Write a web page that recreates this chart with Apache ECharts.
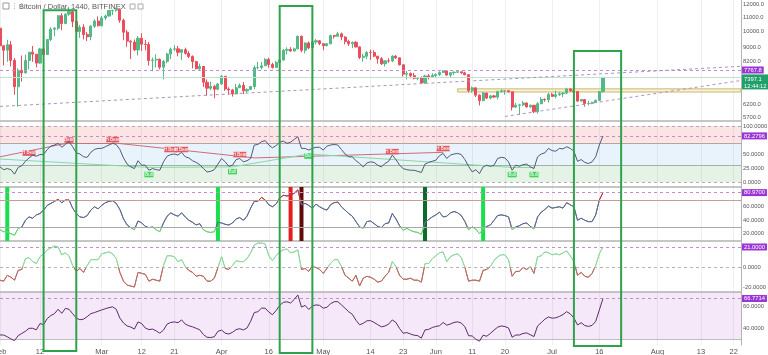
<!DOCTYPE html>
<html><head><meta charset="utf-8">
<script src="https://cdn.jsdelivr.net/npm/echarts@6.0.0/dist/echarts.min.js"></script>
<style>html,body{margin:0;padding:0;background:#fff}#c{width:768px;height:355px}</style>
</head><body><div id="c"></div><script>
// ---------- DATA ----------
const firstDate = '2018-02-01';
const lastDate = '2018-08-24';
// daily candles from 2018-02-01: [open, close, low, high]
const ohlc = [
[10230,9115,8750,10280],[9115,8850,8000,9120],[8850,9175,8200,9480],[9175,8277,7950,9400],[8277,6955,6600,8400],[6955,7754,6100,7850],[7754,7622,7200,8550],[7622,8265,7600,8600],[8265,8736,7800,8750],[8736,8621,8200,9100],[8621,8129,7900,8600],[8129,8926,8100,8990],[8926,8598,8400,8950],[8598,9494,8580,9500],[9494,10166,9400,10300],[10166,10233,9700,10300],[10233,11112,10100,11150],[11112,10551,10100,11300],[10551,11225,10500,11280],[11225,11403,11100,11780],[11403,10690,10300,11500],[10690,10005,9800,10900],[10005,10301,9600,10450],[10301,9813,9500,10500],[9813,9664,9400,9980],[9664,10366,9450,10450],[10366,10725,10250,10850],[10725,10397,10350,11050],
[10397,10951,10350,11080],[10951,11086,10800,11200],[11086,11489,11050,11540],[11489,11512,11150,11550],[11512,11573,11400,11700],[11573,10779,10600,11600],[10779,9965,9450,10900],[9965,9395,9050,10100],[9395,9337,8350,9450],[9337,8866,8800,9500],[8866,9578,8550,9720],[9578,9205,8800,9900],[9205,9194,8850,9480],[9194,8269,8000,9350],[8269,8300,7700,8430],[8300,8338,7900,8620],[8338,7916,7800,8380],[7916,8223,7300,8300],[8223,8630,8120,8700],[8630,8913,8350,9000],[8913,8929,8800,9150],[8929,8728,8500,9100],[8728,8879,8300,8900],[8879,8668,8600,9000],[8668,8495,8400,8800],[8495,8209,7850,8550],[8209,7833,7800,8250],[7833,7954,7750,8100],[7954,7165,6950,7970],[7165,6890,6550,7300],[6890,6973,6800,7200],
[6973,6844,6450,7050],[6844,7083,6800,7130],[7083,7456,7050,7520],[7456,6853,6770,7460],[6853,6811,6600,6930],[6811,6636,6520,6860],[6636,6911,6620,7080],[6911,7023,6900,7110],[7023,6770,6630,7180],[6770,6834,6690,6880],[6834,6968,6820,6980],[6968,7889,6850,8000],[7889,7895,7800,8200],[7895,7986,7800,8180],[7986,8329,7980,8400],[8329,8058,7880,8420],[8058,7902,7840,8150],[7902,8163,7890,8250],[8163,8294,8120,8350],[8294,8845,8260,8930],[8845,8895,8600,9020],[8895,8802,8760,9030],[8802,8930,8780,9000],[8930,9697,8930,9750],[9697,8845,8730,9750],[8845,9281,8670,9320],[9281,8987,8900,9380],[8987,9348,8960,9440],[9348,9419,9200,9520],[9419,9240,9150,9460],
[9240,9119,8850,9250],[9119,9235,9070,9280],[9235,9743,9200,9800],[9743,9700,9550,9780],[9700,9858,9680,9990],[9858,9654,9450,9940],[9654,9373,9200,9700],[9373,9234,9100,9480],[9234,9325,8970,9370],[9325,9043,9010,9400],[9043,8441,8350,9060],[8441,8505,8200,8650],[8505,8723,8350,8800],[8723,8716,8300,8880],[8716,8510,8450,8850],[8510,8368,8100,8520],[8368,8094,8030,8460],[8094,8250,7950,8270],[8250,8247,8150,8400],[8247,8513,8180,8560],[8513,8418,8350,8570],[8418,8041,8000,8430],[8041,7557,7440,8040],[7557,7587,7300,7720],[7587,7480,7350,7650],[7480,7355,7300,7620],[7355,7368,7260,7420],[7368,7135,7090,7450],[7135,7472,7100,7530],[7472,7406,7300,7560],[7406,7494,7370,7600],
[7494,7541,7400,7600],[7541,7643,7470,7700],[7643,7720,7630,7760],[7720,7514,7480,7760],[7514,7633,7400,7660],[7633,7653,7520,7700],[7653,7678,7640,7750],[7678,7624,7570,7690],[7624,7531,7500,7680],[7531,6786,6700,7540],[6786,6906,6700,6970],[6906,6582,6500,6920],[6582,6349,6150,6620],[6349,6675,6320,6720],[6675,6456,6420,6680],[6456,6550,6400,6590],[6550,6499,6470,6590],[6499,6734,6400,6780],[6734,6769,6700,6840],[6769,6776,6600,6800],[6776,6729,6700,6800],[6729,6083,5950,6740],[6083,6162,6050,6250],[6162,6173,5780,6220],[6173,6250,6130,6330],[6250,6093,6060,6280],[6093,6157,6050,6190],[6157,5903,5850,6170],[5903,6218,5830,6290],[6218,6404,6200,6500],
[6404,6385,6300,6440],[6385,6614,6270,6680],[6614,6529,6500,6680],[6529,6597,6450,6780],[6597,6639,6550,6720],[6639,6673,6500,6710],[6673,6857,6620,6880],[6857,6773,6730,6870],[6773,6741,6680,6800],[6741,6329,6300,6750],[6329,6394,6320,6420],[6394,6228,6100,6400],[6228,6238,6150,6340],[6238,6277,6200,6300],[6277,6359,6250,6400],[6359,6741,6340,6750],[6741,7397.1,6690,7420]
];
const rsi = [27,22,24,22,14,26,29,37,43,48,46,49,49,58,64,66,69,62,67,72,63,52,50,45,44,53,58,60,60,63,66,69,67,58,43,32,27,24,38,30,30,21,24,22,21,36,46,49,50,48,53,45,43,38,35,31,24,18,19,22,32,42,36,28,30,40,42,36,38,42,66,67,72,74,66,61,65,71,73,69,71,76,81,60,60,57,60,62,62,57,64,66,67,66,58,50,45,45,38,33,27,34,36,35,30,27,33,37,48,40,30,24,22,21,21,19,17,32,35,37,39,47,51,42,48,50,51,49,40,28,18,22,15,27,30,28,30,42,44,43,36,21,30,28,31,32,27,24,45,50,52,60,56,55,60,59,63,60,55,37,40,35,33,36,45,66,82.2796];
const osc = [26,23,23,20,18,28,30,40,45,43,48,50,55,62,65,68,71,66,70,70,58,50,45,44,47,55,60,57,62,66,68,69,65,56,42,33,29,26,39,36,31,29,30,26,23,36,46,51,48,46,51,45,40,37,33,35,26,23,22,23,37,36,34,33,36,42,44,40,46,58,68,68,74,70,63,60,64,73,77,76,77,80,85,63,65,62,58,64,60,57,55,63,66,67,60,55,50,46,38,30,28,38,39,35,31,29,35,36,50,42,32,25,28,25,23,22,19,37,41,45,48,52,45,46,51,53,51,47,38,26,30,27,20,27,31,33,40,47,48,47,45,26,30,32,35,36,31,27,45,52,56,61,58,59,60,58,66,63,60,40,43,40,38,38,48,70,80.97];
const mom = [-13,-14,-8,-10,-13,-3,-2,9,10,6,4,11,14,18,20,22,21,13,15,12,2,-4,-1,-5,2,8,8,8,14,15,16,14,9,-5,-14,-18,-19,-20,-5,-6,-7,-14,-12,-13,-14,2,12,12,11,6,8,1,-3,-5,-9,-8,-9,-14,-14,-11,0,11,-1,-2,2,7,6,6,9,15,23,25,25,24,12,7,12,16,18,19,15,16,18,-2,-1,-4,2,0,-2,-6,-1,4,8,8,1,-8,-11,-14,-8,-19,-11,-9,-10,-12,-15,-14,-9,-5,6,1,-8,-12,-12,-11,-13,-13,-15,4,4,9,12,15,16,6,11,13,14,10,0,-14,-13,-13,-14,-3,-2,1,7,11,13,13,8,-9,-4,-4,0,-2,1,-6,11,12,16,15,13,14,13,15,17,12,6,-8,-5,-9,-10,-6,2,14,21];
const mfi = [33.6,33.6,32,30,28.5,33,35,37,39.7,39.7,38.3,44,43,48.5,51.3,53,57,53.3,57.8,57,53,49,47.5,48,50.3,53,54,55.2,56.4,57.5,58.5,59.2,57,49,44.5,41.8,40.8,39,45.5,44,40,38.5,39,37.3,35.2,38,43.5,45,45.5,44.8,47.3,43.5,42,41,39.7,38.3,34,31.5,31.3,32,37,38,35.2,34.5,36,38.5,39.3,38.2,40,46,54,54.8,58,58,54.5,52,55.8,60.5,63.3,63.8,62.7,66,70,59,60.5,56.8,60,61,60.5,58,58.8,62,63.9,63.9,61,57.9,54.7,52.4,47,42.9,44.2,46.5,46.7,45,43,41,41.8,43.5,47.3,45,39.5,35.2,35.8,34.5,33.4,33,30.8,38.2,38.7,40.4,41.4,42,45,42.5,43.6,45,45.6,44.5,41,33,32.7,29.7,28,33.4,32.5,35,38,40.7,41.8,41.3,40,31.6,33.6,33.6,35,35.5,33.8,32.2,41.8,44.8,48,50,48.9,49.2,50.5,52.2,54.8,52.8,49,42.7,44.8,42.2,41.4,42.3,46,56.4,66.7714];
// signal bars in the oscillator pane: [date, kind]
const signalBars = [['2018-02-03','bull'],['2018-04-02','bull'],['2018-04-22','bear'],['2018-04-25','bearDark'],['2018-05-29','bullDark'],['2018-06-14','bull']];
// divergence labels on RSI: [date, value, text, kind]
const divLabels = [
 ['2018-02-09',51.6,'H Bear','bear'],['2018-02-20',74.9,'Bear','bear'],['2018-03-04',75.8,'H Bear','bear'],
 ['2018-03-20',58,'H Bear','bear'],['2018-03-23',58,'H Bear','bear'],['2018-04-08',49,'H Bear','bear'],
 ['2018-05-20',54.3,'H Bear','bear'],['2018-06-03',59.7,'H Bear','bear'],
 ['2018-03-14',13.3,'Bull','bull'],['2018-04-06',18.6,'Bull','bull'],['2018-04-27',46.3,'Bull','bull'],
 ['2018-06-22',13.3,'Bull','bull'],['2018-06-28',13.3,'Bull','bull']];
// RSI divergence lines: [[date, v],[date, v], kind]
const rsiTrend = [
 [['2018-02-01',45],['2018-02-20',70],'bear'],[['2018-02-20',70],['2018-03-04',70],'bear'],
 [['2018-03-04',70],['2018-04-12',43],'bear'],[['2018-04-12',43],['2018-06-03',53],'bear'],
 [['2018-02-01',41],['2018-03-14',26],'bull'],[['2018-03-14',26],['2018-04-06',27],'bull'],
 [['2018-04-06',27],['2018-04-27',50],'bull'],[['2018-04-27',50],['2018-06-22',26],'bull'],
 [['2018-06-22',26],['2018-06-28',26],'bull']];
// price pane drawings
const levelLine = 7767.8;
const lastPrice = 7397.1;
const countdown = '12:44:12';
const trendUpper = [['2018-02-01',6110],['2018-08-24',7960]];
const trendLower = [['2018-06-20',5720],['2018-08-24',7250]];
const zoneBox = [['2018-06-07',6860],['2018-08-24',6720]];
// highlight boxes: [startDate, endDate, topPrice, bottom (pane-5 units)]
const boxes = [['2018-02-13','2018-02-22',11520,19],['2018-04-19','2018-04-28',11850,17.3],['2018-07-09','2018-07-22',8800,23.6]];
// ticks
const xTickLabels = [['2018-02-01','Feb'],['2018-02-12','12'],['2018-03-01','Mar'],['2018-03-12','12'],['2018-03-21','21'],['2018-04-03','Apr'],['2018-04-16','16'],['2018-05-01','May'],['2018-05-14','14'],['2018-05-23','23'],['2018-06-01','Jun'],['2018-06-11','11'],['2018-06-20','20'],['2018-07-03','Jul'],['2018-07-16','16'],['2018-08-01','Aug'],['2018-08-13','13'],['2018-08-22','22']];
const priceTicks = [5700,6200,8200,9000,10000,11000,12000];
const rsiTicks = [0,25,50,100];
const oscTicks = [20,40,60];
const momTicks = [-20,0];
const mfiTicks = [40,60];

// ---------- BUILD ----------
function dayList(a, b) {
  const out = []; let t = Date.parse(a + 'T00:00:00Z'); const end = Date.parse(b + 'T00:00:00Z');
  while (t <= end) { out.push(new Date(t).toISOString().slice(0, 10)); t += 86400000; }
  return out;
}
const dates = dayList(firstDate, lastDate);
const tickMap = new Map(xTickLabels);
const FONT = 'Liberation Sans, Arial, sans-serif';
const AX = '#b4b4b4';
const LBL = '#555';
const PURPLE = '#9b35d6';
const PLINE = '#c58ad2';
const YFS = 5.8;
const barColors = {bull: '#19e04a', bullDark: '#0d6a2a', bear: '#e41e1e', bearDark: '#5e0b0b'};
const barData = dates.map(d => {
  const s = signalBars.find(b => b[0] === d);
  return s ? {value: 1, itemStyle: {color: barColors[s[1]]}} : '-';
});

const panes = [{top: 0, height: 121}, {top: 122, height: 65}, {top: 187, height: 54}, {top: 242, height: 50}, {top: 292, height: 53}];
const tickInterval = (i, v) => tickMap.has(v);

const chart = echarts.init(document.getElementById('c'), null, {renderer: 'canvas'});

function valueLabel(txt, extra) {
  return Object.assign({show: true, position: 'end', formatter: txt, backgroundColor: PURPLE, color: '#fff',
    fontSize: YFS, fontFamily: FONT, padding: [1, 2, 0, 2], distance: 1}, extra || {});
}
function yAxisBase(grid, ticks, fmt) {
  return {type: 'value', gridIndex: grid, position: 'right', scale: true,
    axisLine: {show: true, lineStyle: {color: AX}}, axisTick: {show: false},
    axisLabel: {customValues: ticks, formatter: fmt, fontSize: YFS, color: LBL, fontFamily: FONT, margin: 2},
    splitLine: {show: false}};
}
const f4 = v => Number(v).toFixed(4);

const option = {
  animation: false,
  backgroundColor: '#fff',
  grid: panes.map(p => ({left: 0, width: 741, top: p.top, height: p.height, containLabel: false, outerBoundsMode: 'none'})),
  xAxis: panes.map((p, i) => ({
    type: 'category', gridIndex: i, data: dates, boundaryGap: false,
    axisTick: {show: false},
    axisLine: {show: i < 4, onZero: false, lineStyle: {color: AX, width: 1.5}},
    axisLabel: {show: i === 4, interval: tickInterval, formatter: v => tickMap.get(v) || '',
      fontSize: 7.5, color: LBL, fontFamily: FONT, margin: 3},
    splitLine: {show: true, interval: tickInterval, lineStyle: {color: '#efefef', width: 1}}
  })),
  yAxis: [
    {type: 'log', logBase: 10, gridIndex: 0, position: 'right', min: 5551, max: 12320,
      axisLine: {show: true, lineStyle: {color: AX}}, axisTick: {show: false},
      axisLabel: {customValues: priceTicks, formatter: v => Number(v).toFixed(1), fontSize: YFS, color: LBL, fontFamily: FONT, margin: 2},
      splitLine: {show: false}},
    Object.assign(yAxisBase(1, rsiTicks, f4), {min: -8.9, max: 107.1}),
    Object.assign(yAxisBase(2, oscTicks, f4), {min: 9.3, max: 89.3}),
    {type: 'value', gridIndex: 2, min: 0, max: 1, show: false},
    Object.assign(yAxisBase(3, momTicks, f4), {min: -25.1, max: 26.1}),
    Object.assign(yAxisBase(4, mfiTicks, f4), {min: 24.5, max: 72.7})
  ],
  visualMap: [
    {type: 'piecewise', show: false, seriesIndex: 2, dimension: 1,
      pieces: [{lt: 30, color: '#6fcf74'}, {gte: 30, lte: 70, color: '#5b6c8e'}, {gt: 70, color: '#b8393d'}]},
    {type: 'piecewise', show: false, seriesIndex: 4, dimension: 1,
      pieces: [{lt: -100, color: '#b86b62'}, {gte: -100, lt: 0, color: '#b86b62'}, {gte: 0, lte: 100, color: '#8fd89c'}, {gt: 100, color: '#8fd89c'}]}
  ],
  series: [
    {type: 'candlestick', xAxisIndex: 0, yAxisIndex: 0, data: ohlc, barWidth: 2.6, z: 3,
      itemStyle: {color: '#53b987', color0: '#eb4d5c', borderColor: '#53b987', borderColor0: '#eb4d5c', borderWidth: 1},
      markArea: {silent: true, data: [[
        {coord: zoneBox[0], itemStyle: {color: 'rgba(240,228,170,0.45)', borderColor: '#c9b76c', borderWidth: 1}},
        {coord: zoneBox[1]}]]},
      markLine: {silent: true, symbol: 'none', label: {show: false}, data: [
        {yAxis: levelLine, lineStyle: {color: PLINE, type: [3, 3], width: 1}, label: valueLabel(levelLine.toFixed(1))},
        {yAxis: lastPrice, lineStyle: {color: '#bfe2d3', type: 'solid', width: 1},
          label: valueLabel(lastPrice.toFixed(1) + '\n' + countdown, {backgroundColor: '#22a06b', verticalAlign: 'top', lineHeight: 7, offset: [0, -3]})},
        [{coord: trendUpper[0], lineStyle: {color: '#a794bd', type: [3, 3], width: 1}}, {coord: trendUpper[1]}],
        [{coord: trendLower[0], lineStyle: {color: '#b38fc4', type: [3, 3], width: 1}}, {coord: trendLower[1]}]
      ]}},
    {type: 'line', xAxisIndex: 1, yAxisIndex: 1, data: rsi, symbol: 'none', z: 5, lineStyle: {color: '#4d5a7b', width: 1},
      markArea: {silent: true, data: [
        [{coord: [firstDate, 100], itemStyle: {color: 'rgba(246,120,120,0.2)'}}, {coord: [lastDate, 70]}],
        [{coord: [firstDate, 70], itemStyle: {color: 'rgba(120,180,230,0.16)'}}, {coord: [lastDate, 30]}],
        [{coord: [firstDate, 30], itemStyle: {color: 'rgba(110,190,120,0.18)'}}, {coord: [lastDate, 0]}]]},
      markLine: {silent: true, symbol: 'none', label: {show: false}, data: [
        {yAxis: 100, lineStyle: {color: '#b3a9b3', type: [3, 3], width: 1}},
        {yAxis: 70, lineStyle: {color: '#b9a2a2', type: 'solid', width: 1}},
        {yAxis: 30, lineStyle: {color: '#a1b3a4', type: 'solid', width: 1}},
        {yAxis: 0, lineStyle: {color: '#b3b3b3', type: [3, 3], width: 1}},
        {yAxis: rsi[rsi.length - 1], lineStyle: {color: PLINE, type: [3, 3], width: 1}, label: valueLabel(f4(rsi[rsi.length - 1]))}
      ].concat(rsiTrend.map(t => [
        {coord: t[0], lineStyle: {color: t[2] === 'bear' ? '#cf6d78' : '#86dc9c', type: 'solid', width: 1}},
        {coord: t[1]}]))},
      markPoint: {silent: true, data: divLabels.map(l => ({
        coord: [l[0], l[1]], value: l[2], symbol: 'rect',
        symbolSize: l[2].length > 4 ? [13, 5.5] : [9, 5.5],
        itemStyle: {color: l[3] === 'bear' ? '#e55a60' : '#3ed35a'},
        label: {show: true, formatter: l[2], color: '#fff', fontSize: 4.5, fontFamily: FONT, position: 'inside'}}))}},
    {type: 'line', xAxisIndex: 2, yAxisIndex: 2, data: osc, symbol: 'none', lineStyle: {width: 1}, z: 3,
      markLine: {silent: true, symbol: 'none', label: {show: false}, data: [
        {yAxis: 70, lineStyle: {color: '#c49c9c', type: 'solid', width: 1}},
        {yAxis: 30, lineStyle: {color: '#a9a9a9', type: 'solid', width: 1}},
        {yAxis: osc[osc.length - 1], lineStyle: {color: PLINE, type: [3, 3], width: 1}, label: valueLabel(f4(osc[osc.length - 1]))}]}},
    {type: 'bar', xAxisIndex: 2, yAxisIndex: 3, data: barData, barWidth: 4, silent: true, z: 2},
    {type: 'line', xAxisIndex: 3, yAxisIndex: 4, data: mom, symbol: 'none', lineStyle: {width: 1}, z: 3,
      markLine: {silent: true, symbol: 'none', label: {show: false}, data: [
        {yAxis: 0, lineStyle: {color: '#b3b3b3', type: [3, 3], width: 1}},
        {yAxis: mom[mom.length - 1], lineStyle: {color: PLINE, type: [3, 3], width: 1}, label: valueLabel(f4(mom[mom.length - 1]))}]}},
    {type: 'line', xAxisIndex: 4, yAxisIndex: 5, data: mfi, symbol: 'none', z: 5, lineStyle: {color: '#5d2b6b', width: 1},
      markArea: {silent: true, data: [[{coord: [firstDate, 72.7], itemStyle: {color: 'rgba(200,140,225,0.2)'}}, {coord: [lastDate, 30]}]]},
      markLine: {silent: true, symbol: 'none', label: {show: false}, data: [
        {yAxis: 30, lineStyle: {color: '#bdbdbd', type: 'solid', width: 1}},
        {yAxis: mfi[mfi.length - 1], lineStyle: {color: PLINE, type: [3, 3], width: 1}, label: valueLabel(f4(mfi[mfi.length - 1]))}]}}
  ]
};
chart.setOption(option);

// header + highlight boxes
const gfx = [
  {type: 'rect', id: 'h1', shape: {x: 3, y: 3, width: 6, height: 6}, style: {fill: '#fff', stroke: '#999', lineWidth: 1}, z: 50},
  {type: 'text', id: 'h2', style: {x: 11, y: 2.5, text: '⋮⋮', fill: '#888', fontSize: 7, fontFamily: 'DejaVu Sans'}, z: 50},
  {type: 'text', id: 'h3', style: {x: 19, y: 2.5, text: 'Bitcoin / Dollar, 1440, BITFINEX', fill: '#555', fontSize: 7.5, fontFamily: FONT}, z: 50},
  {type: 'rect', id: 'h4', shape: {x: 130, y: 4, width: 5, height: 5}, style: {fill: '#fff', stroke: '#aaa', lineWidth: 1}, z: 50},
  {type: 'rect', id: 'h5', shape: {x: 138, y: 4, width: 5, height: 5}, style: {fill: '#fff', stroke: '#aaa', lineWidth: 1}, z: 50}
];
boxes.forEach((b, k) => {
  const x1 = chart.convertToPixel({xAxisIndex: 0}, b[0]);
  const x2 = chart.convertToPixel({xAxisIndex: 0}, b[1]);
  const y1 = chart.convertToPixel({yAxisIndex: 0}, b[2]);
  const y2 = chart.convertToPixel({yAxisIndex: 5}, b[3]);
  gfx.push({type: 'rect', id: 'box' + k, shape: {x: x1, y: y1, width: x2 - x1, height: y2 - y1},
    style: {fill: 'none', stroke: '#2fa24c', lineWidth: 2}, z: 100});
});
chart.setOption({graphic: gfx});
</script></body></html>
